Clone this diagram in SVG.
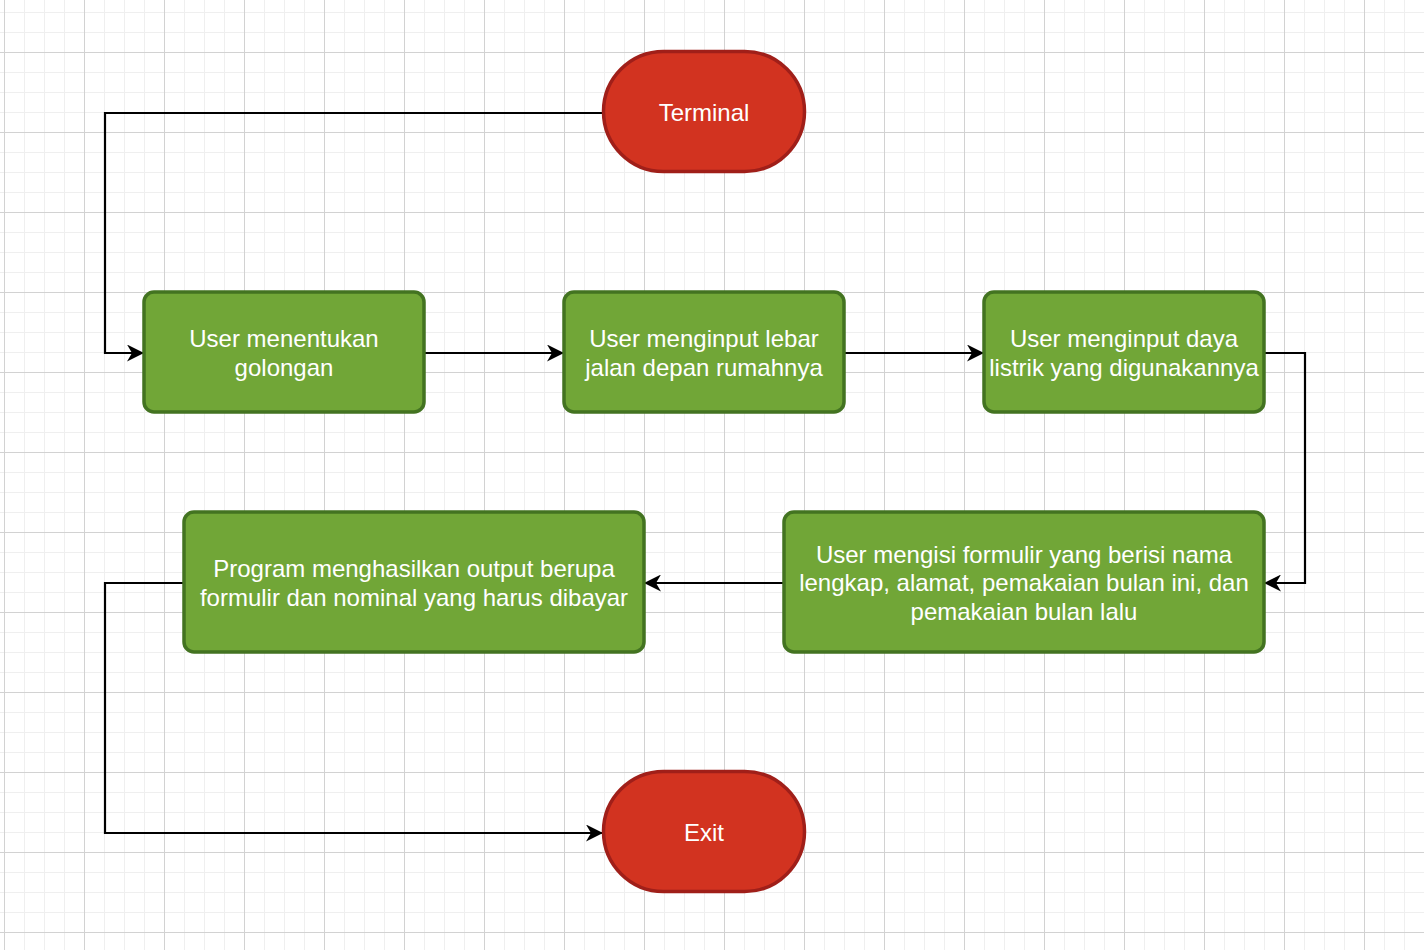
<svg xmlns="http://www.w3.org/2000/svg" width="1424" height="950" viewBox="0 0 1424 950">
<defs>
<pattern id="minor" x="4" y="12" width="20" height="20" patternUnits="userSpaceOnUse">
<path d="M0 0H20M0 0V20" fill="none" stroke="#efefef" stroke-width="2"/>
</pattern>
<pattern id="major" x="4" y="52" width="80" height="80" patternUnits="userSpaceOnUse">
<path d="M0 0H80M0 0V80" fill="none" stroke="#d2d2d2" stroke-width="2"/>
</pattern>
<marker id="arr" viewBox="0 0 17 17" refX="17" refY="8.5" markerWidth="17" markerHeight="17" markerUnits="userSpaceOnUse" orient="auto">
<path d="M0 0L17 8.5L0 17L5 8.5Z" fill="#000"/>
</marker>
<style>
.term{fill:#d23320;stroke:#a01f19;stroke-width:3.5}
.proc{fill:#71a637;stroke:#437321;stroke-width:3.5}
.t{font-family:"Liberation Sans",Arial,sans-serif;font-size:24px;fill:#fff;text-anchor:middle}
.c{fill:none;stroke:#000;stroke-width:2.2;marker-end:url(#arr)}
</style>
</defs>
<rect width="1424" height="950" fill="#fff"/>
<rect width="1424" height="950" fill="url(#minor)"/>
<rect width="1424" height="950" fill="url(#major)"/>
<g id="connectors">
<path class="c" d="M603 113H105V353H144"/>
<path class="c" d="M424 353H564"/>
<path class="c" d="M844 353H984"/>
<path class="c" d="M1264 353H1305V583H1264"/>
<path class="c" d="M784 583H644"/>
<path class="c" d="M184 583H105V833H603"/>
</g>
<g id="terminal">
<rect class="term" x="603.5" y="51.5" width="201" height="120" rx="60"/>
<text class="t" x="704" y="121">Terminal</text>
</g>
<g id="n1">
<rect class="proc" x="144" y="292" width="280" height="120" rx="10"/>
<text class="t" x="284" y="346.5">User menentukan</text>
<text class="t" x="284" y="375.5">golongan</text>
</g>
<g id="n2">
<rect class="proc" x="564" y="292" width="280" height="120" rx="10"/>
<text class="t" x="704" y="346.5">User menginput lebar</text>
<text class="t" x="704" y="375.5">jalan depan rumahnya</text>
</g>
<g id="n3">
<rect class="proc" x="984" y="292" width="280" height="120" rx="10"/>
<text class="t" x="1124" y="346.5">User menginput daya</text>
<text class="t" x="1124" y="375.5">listrik yang digunakannya</text>
</g>
<g id="n4">
<rect class="proc" x="784" y="512" width="480" height="140" rx="10"/>
<text class="t" x="1024" y="562.5">User mengisi formulir yang berisi nama</text>
<text class="t" x="1024" y="591">lengkap, alamat, pemakaian bulan ini, dan</text>
<text class="t" x="1024" y="619.5">pemakaian bulan lalu</text>
</g>
<g id="n5">
<rect class="proc" x="184" y="512" width="460" height="140" rx="10"/>
<text class="t" x="414" y="576.5">Program menghasilkan output berupa</text>
<text class="t" x="414" y="605.5">formulir dan nominal yang harus dibayar</text>
</g>
<g id="exit">
<rect class="term" x="603.5" y="771.5" width="201" height="120" rx="60"/>
<text class="t" x="704" y="841">Exit</text>
</g>
</svg>
